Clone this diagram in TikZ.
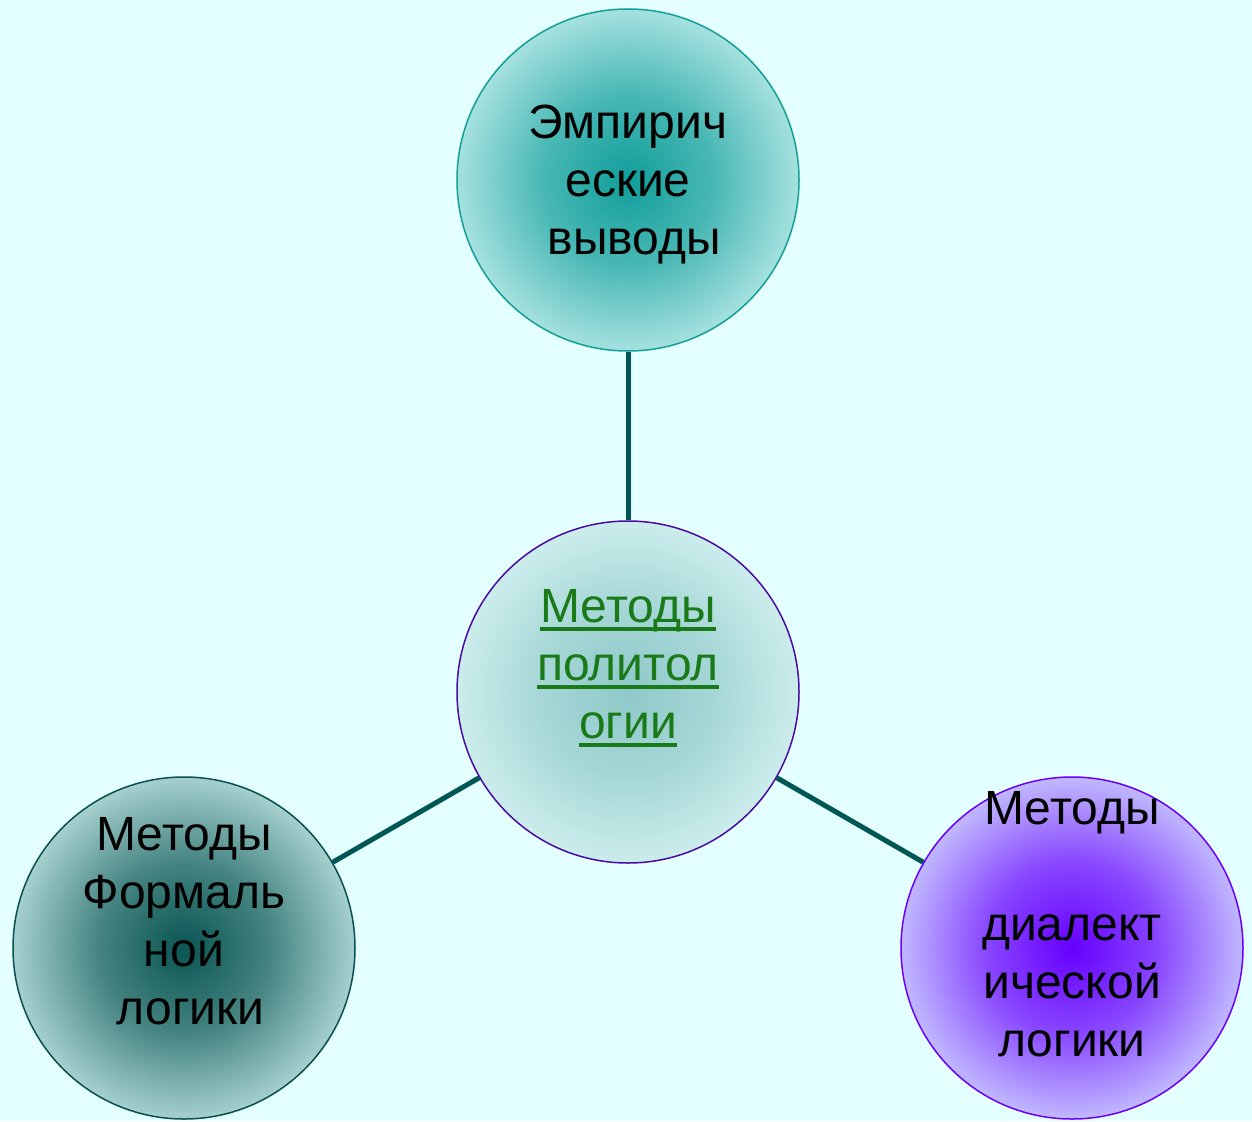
\documentclass[tikz,border=0pt]{standalone}
\usepackage{fontspec}
\setmainfont{Liberation Sans}
\definecolor{bgc}{RGB}{227,255,255}
\definecolor{topin}{RGB}{16,158,154}
\definecolor{topout}{RGB}{165,225,223}
\definecolor{topline}{RGB}{19,158,154}
\definecolor{cenin}{RGB}{143,201,201}
\definecolor{cenout}{RGB}{203,237,236}
\definecolor{cenline}{RGB}{75,10,165}
\definecolor{lefin}{RGB}{10,85,82}
\definecolor{lefout}{RGB}{165,208,206}
\definecolor{lefline}{RGB}{10,80,80}
\definecolor{rigin}{RGB}{102,0,255}
\definecolor{rigout}{RGB}{192,184,255}
\definecolor{rigline}{RGB}{106,0,255}
\colorlet{topmid}{topin!62!topout}
\colorlet{cenmid}{cenin!62!cenout}
\colorlet{lefmid}{lefin!62!lefout}
\colorlet{rigmid}{rigin!62!rigout}
\definecolor{conn}{RGB}{0,85,85}
\definecolor{linkgreen}{RGB}{26,122,26}
\pgfdeclareradialshading{shtop}{\pgfpoint{0bp}{0bp}}{color(0bp)=(topin); color(12.5bp)=(topmid); color(25bp)=(topout); color(50bp)=(topout)}
\pgfdeclareradialshading{shcen}{\pgfpoint{0bp}{0bp}}{color(0bp)=(cenin); color(12.5bp)=(cenmid); color(25bp)=(cenout); color(50bp)=(cenout)}
\pgfdeclareradialshading{shlef}{\pgfpoint{0bp}{0bp}}{color(0bp)=(lefin); color(12.5bp)=(lefmid); color(25bp)=(lefout); color(50bp)=(lefout)}
\pgfdeclareradialshading{shrig}{\pgfpoint{0bp}{0bp}}{color(0bp)=(rigin); color(12.5bp)=(rigmid); color(25bp)=(rigout); color(50bp)=(rigout)}
\newcommand{\ulink}[1]{{\setbox0\hbox{#1}\rlap{\rule[-8pt]{\wd0}{3.5pt}}\box0}}
\begin{document}
\begin{tikzpicture}[x=1pt,y=-1pt,
  bubble/.style={circle,minimum size=342pt,inner sep=0pt,line width=1.5pt},
  txt/.style={align=center,inner sep=0pt,font=\fontsize{48}{58}\selectfont},
  connector/.style={conn,line width=5pt}]
\fill[bgc] (0,0) rectangle (1252,1121);
\useasboundingbox (0,0) rectangle (1252,1121);
\node[bubble,draw=topline,shading=shtop] (top) at (628,180) {};
\node[bubble,draw=cenline,shading=shcen] (cen) at (628,692) {};
\node[bubble,draw=lefline,shading=shlef] (lef) at (184,948) {};
\node[bubble,draw=rigline,shading=shrig] (rig) at (1072,948) {};
\draw[connector] (cen) -- (top);
\draw[connector] (cen) -- (lef);
\draw[connector] (cen) -- (rig);
\node[txt] (ttop) at (628,185) {Эмпирич\\еские\\\hspace*{13pt}выводы};
\node[txt,text=linkgreen] (tcen) at (628,668) {\ulink{Методы}\\\ulink{политол}\\\ulink{огии}};
\node[txt] (tlef) at (184,921) {Методы\\Формаль\\ной\\\hspace*{13pt}логики};
\node[txt] (trig) at (1072,924) {Методы\\\mbox{}\\диалект\\ической\\логики};
\end{tikzpicture}
\end{document}
